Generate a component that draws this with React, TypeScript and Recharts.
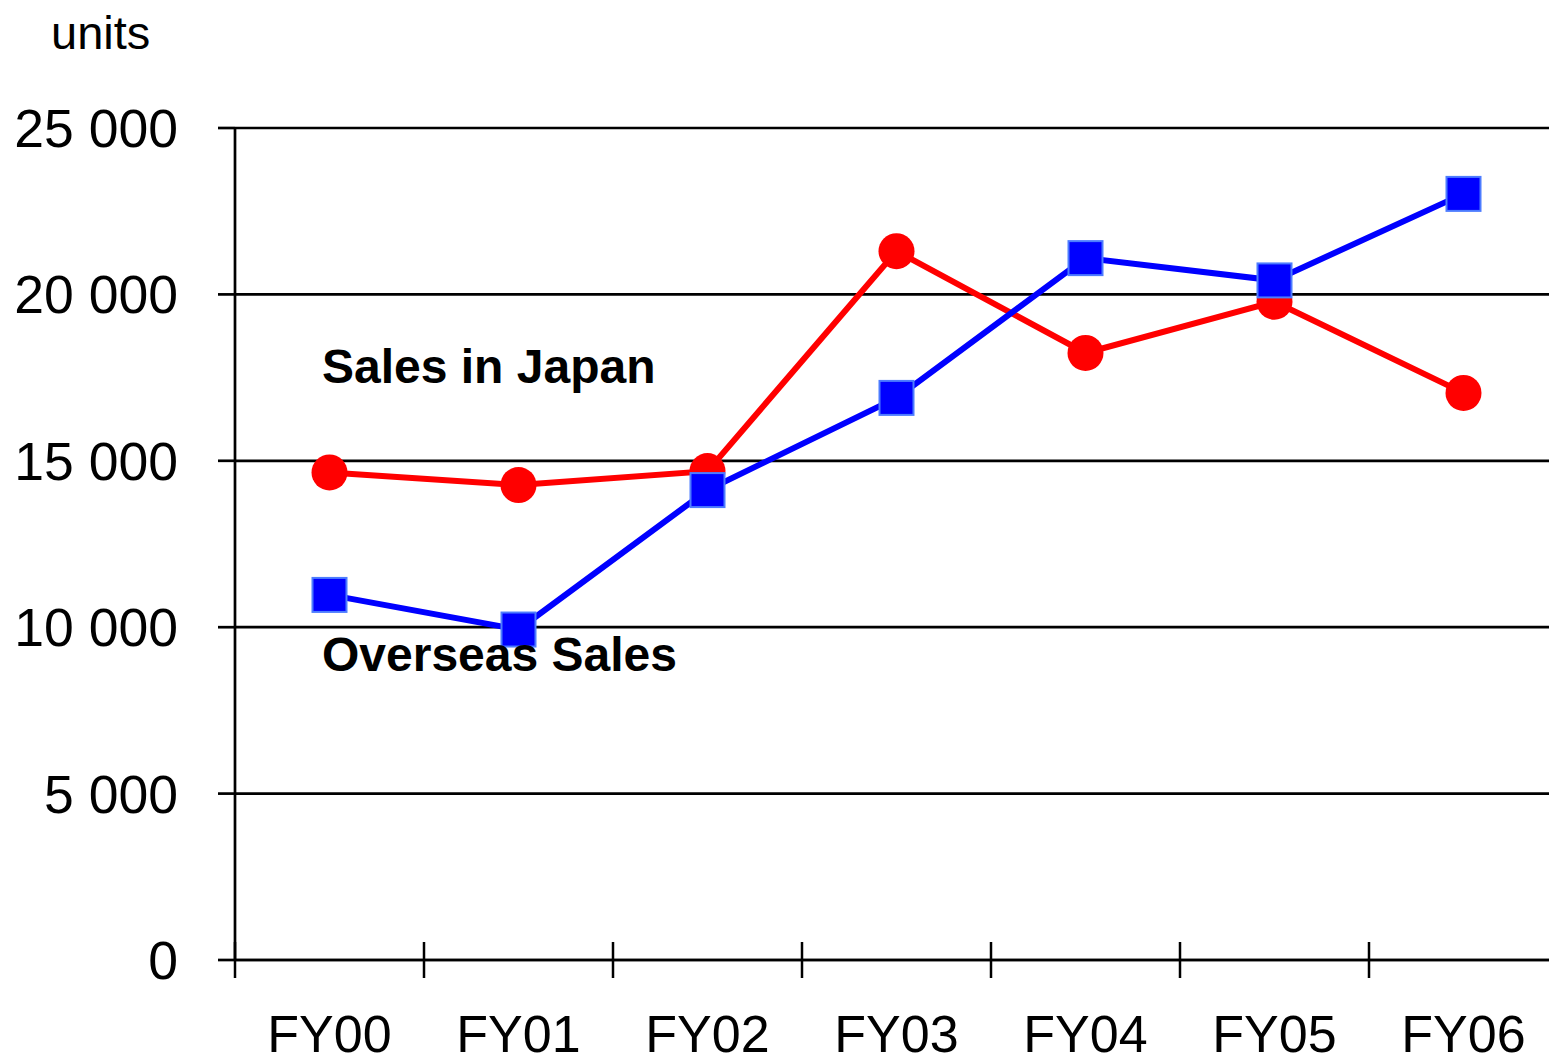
import React from 'react';
import { LineChart, Line, XAxis, YAxis, CartesianGrid } from 'recharts';

const categories = ['FY00', 'FY01', 'FY02', 'FY03', 'FY04', 'FY05', 'FY06'];
const salesInJapan = [14650, 14270, 14690, 21300, 18240, 19780, 17040];
const overseasSales = [10970, 9930, 14120, 16890, 21090, 20420, 23020];
const yTicks = [0, 5000, 10000, 15000, 20000, 25000];

const data = categories.map((name, i) => ({
  idx: i,
  name,
  japan: salesInJapan[i],
  overseas: overseasSales[i],
}));

// ticks at category centres (labels) and at boundaries (tick marks)
const xTicks = categories.flatMap((_, i) => [i - 0.5, i]).concat(categories.length - 0.5);

const FONT = '"Liberation Sans", Arial, sans-serif';

function formatY(v: number) {
  if (v === 0) return '0';
  return `${Math.floor(v / 1000)} ${String(v % 1000).padStart(3, '0')}`;
}

function XTick(props: any) {
  const { x, y, payload } = props;
  const v = payload.value;
  if (Number.isInteger(v)) {
    return (
      <text x={x} y={y + 92} textAnchor="middle" fontSize={52} fill="#000" fontFamily={FONT}>
        {categories[v]}
      </text>
    );
  }
  return <line x1={x} x2={x} y1={y - 18} y2={y + 18} stroke="#000" strokeWidth={2.5} />;
}

function SquareDot(props: any) {
  const { cx, cy } = props;
  if (cx == null || cy == null) return null;
  return (
    <rect
      x={cx - 17}
      y={cy - 17}
      width={34}
      height={34}
      fill="#0000FF"
      stroke="#4D7CFF"
      strokeWidth={2}
    />
  );
}

const noteStyle: React.CSSProperties = {
  position: 'absolute',
  left: 322,
  fontSize: 48,
  fontWeight: 'bold',
  lineHeight: 1,
  whiteSpace: 'nowrap',
  color: '#000',
};

export default function App() {
  return (
    <div
      style={{
        position: 'absolute',
        left: 0,
        top: 0,
        width: 1549,
        height: 1064,
        overflow: 'hidden',
        background: '#fff',
        fontFamily: FONT,
      }}
    >
      <LineChart
        width={1570}
        height={1064}
        data={data}
        margin={{ top: 128, right: 12, bottom: 4, left: 35 }}
      >
        <CartesianGrid vertical={false} stroke="#000" strokeWidth={2.7} />
        <XAxis
          dataKey="idx"
          type="number"
          domain={[-0.5, categories.length - 0.5]}
          ticks={xTicks}
          interval={0}
          height={100}
          tickSize={0}
          tickMargin={0}
          tickLine={false}
          axisLine={{ stroke: '#000', strokeWidth: 2.7 }}
          tick={<XTick />}
        />
        <YAxis
          width={200}
          domain={[0, 25000]}
          ticks={yTicks}
          interval={0}
          tickFormatter={formatY}
          tickSize={17}
          tickMargin={40}
          axisLine={{ stroke: '#000', strokeWidth: 2.7 }}
          tickLine={{ stroke: '#000', strokeWidth: 2.7 }}
          tick={{ fontSize: 53.5, fill: '#000', fontFamily: FONT }}
        />
        <Line
          dataKey="japan"
          stroke="#FF0000"
          strokeWidth={6}
          dot={{ r: 18, fill: '#FF0000', stroke: '#FF0000', strokeWidth: 0 }}
          activeDot={false}
          isAnimationActive={false}
        />
        <Line
          dataKey="overseas"
          stroke="#0000FF"
          strokeWidth={6}
          dot={<SquareDot />}
          activeDot={false}
          isAnimationActive={false}
        />
      </LineChart>
      <div style={{ position: 'absolute', left: 51, top: 9, fontSize: 47, lineHeight: 1, color: '#000' }}>
        units
      </div>
      <div style={{ ...noteStyle, top: 343 }}>Sales in Japan</div>
      <div style={{ ...noteStyle, top: 631 }}>Overseas Sales</div>
    </div>
  );
}
